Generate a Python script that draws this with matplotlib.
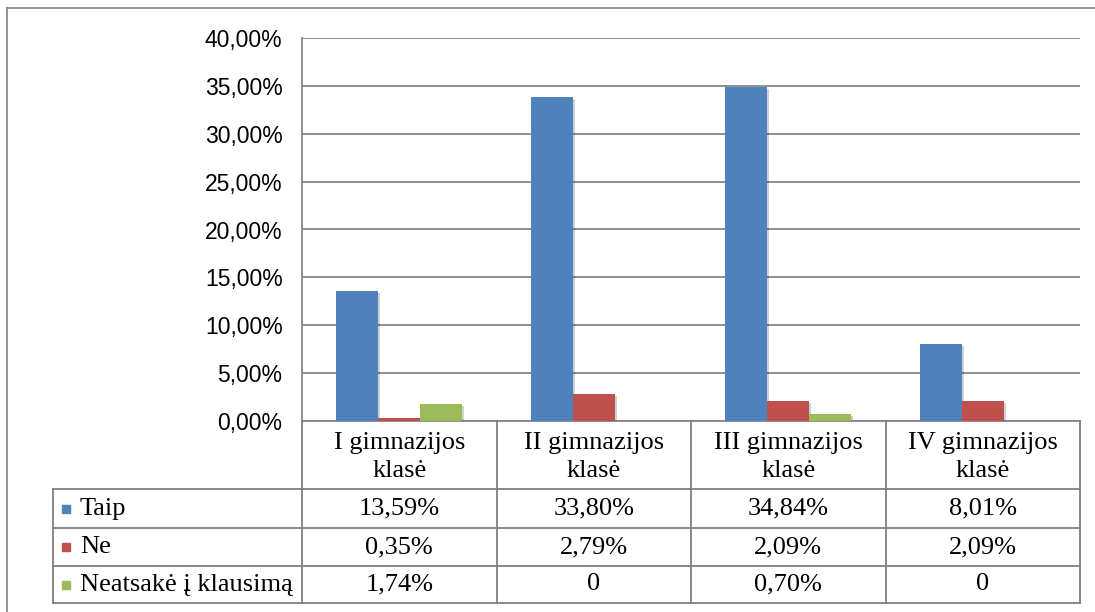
import matplotlib.pyplot as plt
from matplotlib.lines import Line2D
from matplotlib.patches import Rectangle
import matplotlib.transforms as mtransforms
import matplotlib.patheffects as pe

categories = ["I gimnazijos\nklasė", "II gimnazijos\nklasė", "III gimnazijos\nklasė", "IV gimnazijos\nklasė"]
series_names = ["Taip", "Ne", "Neatsakė į klausimą"]
taip = [13.59, 33.80, 34.84, 8.01]
ne = [0.35, 2.79, 2.09, 2.09]
neatsake = [1.74, 0, 0.70, 0]
series = [taip, ne, neatsake]
colors = ["#4F81BD", "#C0504D", "#9BBB59"]
yticks = [0, 5, 10, 15, 20, 25, 30, 35, 40]

W, H = 1095, 612
fig = plt.figure(figsize=(W / 100, H / 100), dpi=100)
fig.patch.set_facecolor("white")


def fx(x):
    return x / W


def fy(y):
    return 1 - y / H


left, right, top, bottom = 302, 1080, 38, 421
ax = fig.add_axes([fx(left), fy(bottom), fx(right - left), (bottom - top) / H])

grid_col = "#868686"
bw = 0.216
shadow = [pe.SimplePatchShadow(offset=(1.5, -1.5), shadow_rgbFace="#000000", alpha=0.18), pe.Normal()]
for k, vals in enumerate(series):
    xs = [i + (k - 1) * bw for i in range(len(categories))]
    bars = ax.bar(xs, vals, width=bw, color=colors[k], zorder=3)
    for b in bars:
        b.set_path_effects(shadow)

ax.set_xlim(-0.5, len(categories) - 0.5)
ax.set_ylim(0, 40)
ax.set_yticks(yticks)
ax.set_yticklabels([f"{v:.2f}".replace(".", ",") + "%" for v in yticks],
                   fontfamily="Liberation Sans", fontsize=16.5, color="#000000")
ax.set_xticks([])
ax.tick_params(axis="y", length=0, pad=14)
ax.yaxis.grid(True, color=grid_col, linewidth=1.3, zorder=0)
ax.set_axisbelow(True)
for s in ["top", "right"]:
    ax.spines[s].set_visible(False)
for s in ["left", "bottom"]:
    ax.spines[s].set_color(grid_col)
    ax.spines[s].set_linewidth(1.3)

# data table below the axes
tr = mtransforms.blended_transform_factory(ax.transData, fig.transFigure)
rows_y = [421, 489, 528, 566, 603]
tcol = "#7f7f7f"
for y in rows_y[1:]:
    fig.add_artist(Line2D([fx(53), fx(right)], [fy(y), fy(y)], color=tcol, lw=1.3))
n = len(categories)
for xv in [-0.5 + i for i in range(n + 1)]:
    fig.add_artist(Line2D([xv, xv], [fy(421), fy(603)], color=tcol, lw=1.3, transform=tr))
fig.add_artist(Line2D([fx(53), fx(53)], [fy(489), fy(603)], color=tcol, lw=1.3))

serif = "Liberation Serif"
fs = 19
for i, cat in enumerate(categories):
    fig.text(i, fy(457), cat, transform=tr, ha="center", va="center",
             fontfamily=serif, fontsize=fs, linespacing=1.4)

for k, vals in enumerate(series):
    yc = (rows_y[k + 1] + rows_y[k + 2]) / 2
    fig.add_artist(Rectangle((fx(62), fy(yc + 4)), fx(8), 8 / H, color=colors[k]))
    fig.text(fx(80), fy(yc), series_names[k], ha="left", va="center",
             fontfamily=serif, fontsize=fs)
    for i, v in enumerate(vals):
        label = "0" if v == 0 else f"{v:.2f}".replace(".", ",") + "%"
        fig.text(i, fy(yc), label, transform=tr, ha="center", va="center",
                 fontfamily=serif, fontsize=fs)

# outer chart border
fig.add_artist(Line2D([fx(7), fx(7)], [fy(8), 0], color="#8c8c8c", lw=1.3))
fig.add_artist(Line2D([fx(7), 1], [fy(8), fy(8)], color="#8c8c8c", lw=1.3))

fig.savefig("out.png", dpi=100)
